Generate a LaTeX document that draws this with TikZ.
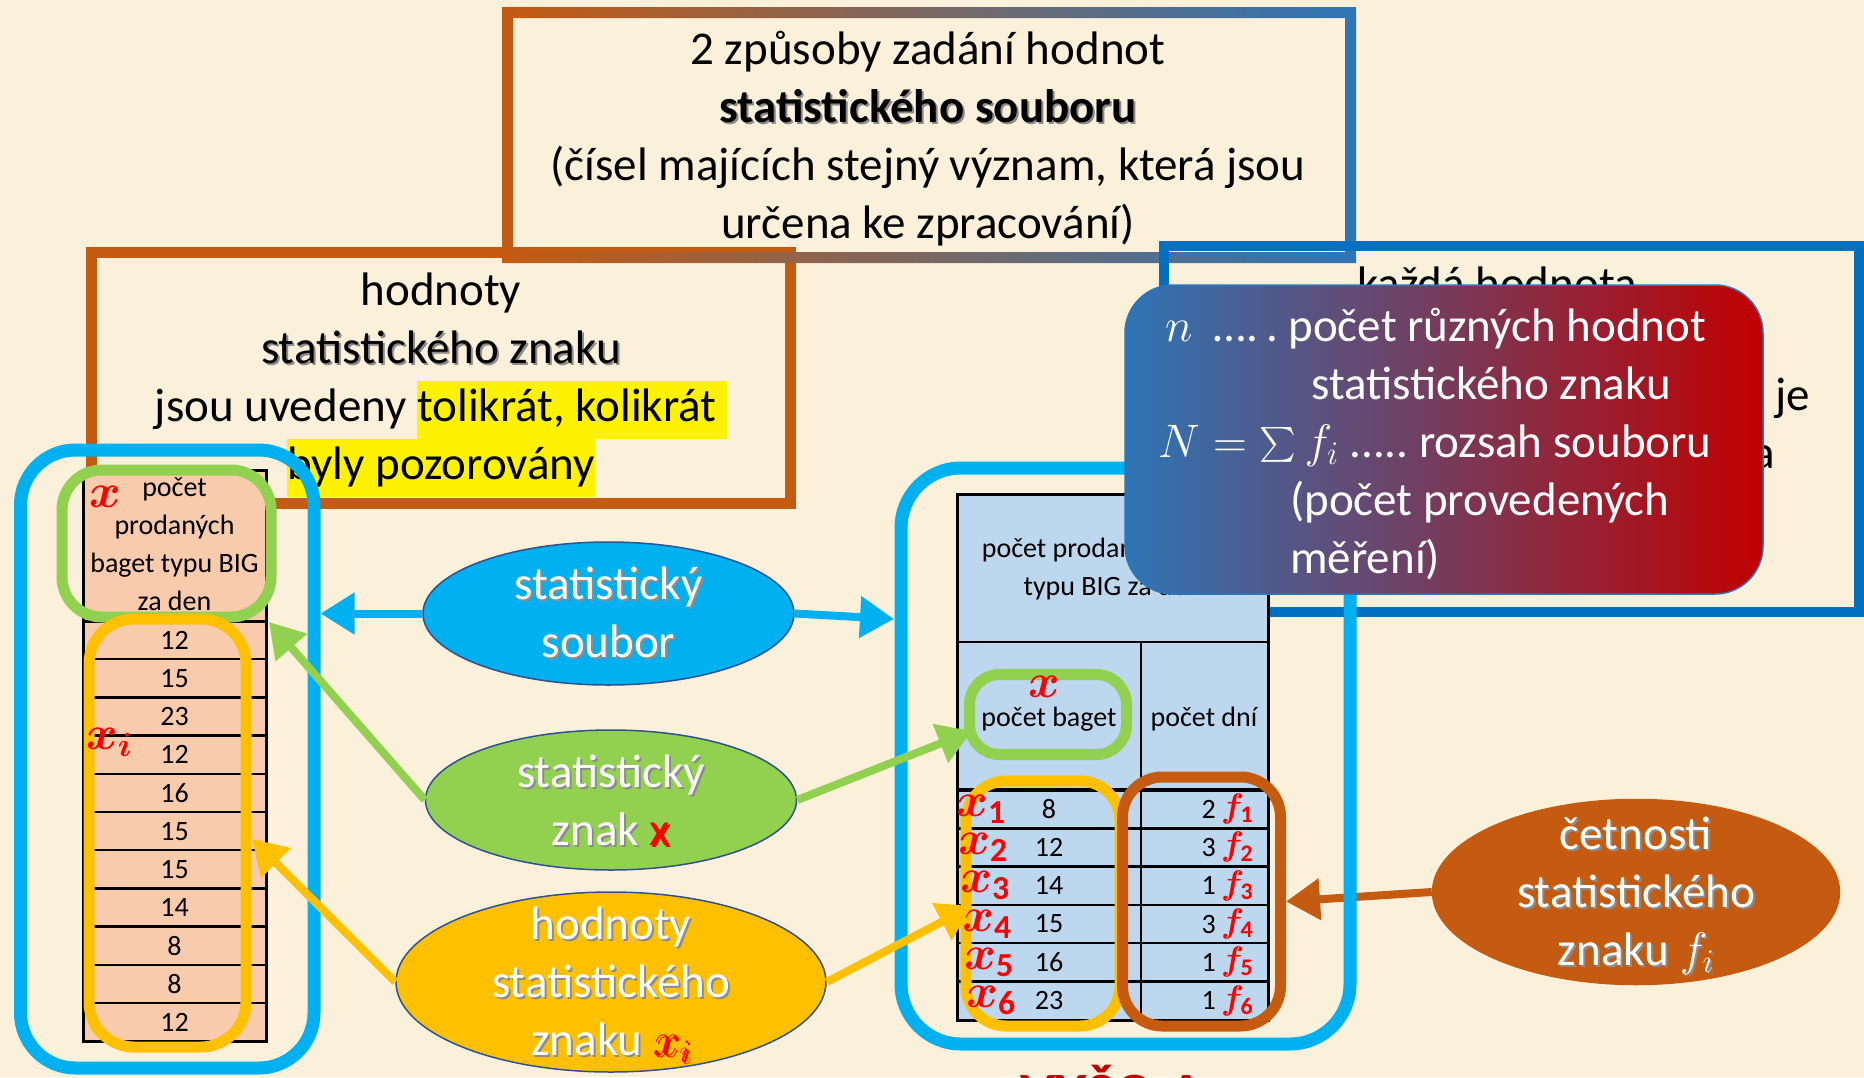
\RequirePackage{fix-cm}
\documentclass[tikz,border=0pt]{standalone}
\usepackage{amsmath,bm}
\usepackage{fontspec}
\setmainfont{Carlito}
\usetikzlibrary{positioning,shapes.geometric,arrows.meta,math}
\definecolor{parch}{HTML}{FBF1DA}
\definecolor{rust}{HTML}{C55A11}
\definecolor{skyb}{HTML}{00B0F0}
\definecolor{leaf}{HTML}{92D050}
\definecolor{amber}{HTML}{FFC000}
\definecolor{navy}{HTML}{0070C0}
\definecolor{steel}{HTML}{2E75B6}
\definecolor{wine}{HTML}{C00000}
\definecolor{mauve}{HTML}{A0667A}
\definecolor{peach}{HTML}{F8CBAD}
\definecolor{pale}{HTML}{BDD7EE}
\definecolor{ovaledge}{HTML}{2F528F}
\newcommand{\slidefont}{\fontsize{47}{58}\selectfont}
\newcommand{\cellfont}{\fontsize{28}{38}\selectfont}
\newcommand{\symfont}{\fontsize{48}{48}\selectfont}
\newcommand{\shad}[1]{\leavevmode\rlap{\kern2pt\raisebox{-2pt}{\textcolor{black!45}{#1}}}#1}
\newcommand{\hilite}[1]{{\setlength{\fboxsep}{0pt}\colorbox{yellow}{\strut #1}}}
\tikzset{
  boxframe/.style={draw=#1, line width=11pt, inner sep=0pt},
  roundframe/.style={draw=#1, line width=11pt, rounded corners=40pt, inner sep=0pt},
  oval/.style={ellipse, fill=#1, draw=ovaledge, line width=1.5pt, inner sep=0pt},
  ovaltext/.style={text=white, align=center, font=\slidefont, inner sep=0pt},
  plain/.style={align=center, font=\slidefont, inner sep=0pt},
  cell/.style={font=\cellfont, inner sep=0pt, align=center},
  redsym/.style={text=red, font=\symfont, inner sep=0pt},
  countbox/.style={rectangle, rounded corners=48pt, left color=steel, right color=wine, draw=steel, line width=1.5pt},
  arr/.style={color=#1, line width=8pt, -{Triangle[length=34pt,width=40pt]}}
}
\begin{document}
\begin{tikzpicture}[x=1pt,y=-1pt]
\fill[parch] (0,0) rectangle (1864,1077);
\useasboundingbox (0,0) rectangle (1864,1077);

\node[boxframe=rust, minimum width=699, minimum height=251] (valsbox) at (441,378) {};
\node[plain] (valstxt) at (441,385) {hodnoty\\\shad{statistického znaku}\\jsou uvedeny \hilite{tolikrát, kolikrát }\\\hilite{byly pozorovány}};

\shade[left color=rust, middle color=mauve, right color=steel, even odd rule]
  (502,7) rectangle (1356,263) (513,18) rectangle (1345,252);
\node[plain] (topnote) at (928,139) {2 způsoby zadání hodnot\\\textbf{\shad{statistického souboru}}\\(čísel majících stejný význam, která jsou\\určena ke zpracování)};

\node[boxframe=navy, line width=10pt, minimum width=695, minimum height=366] (eachbox) at (1511.5,429) {};
\node[plain, anchor=base] (eachtop) at (1497,299) {každá hodnota};
\node[plain, anchor=base east] (eachje) at (1810,410) {ý je};
\node[plain, anchor=base west] (eacha) at (1752,468) {a};

\fill[peach] (83,470) rectangle (266,1041);
\foreach \k in {1,...,10}
  \draw[line width=2.5] (83,{621+38.2*\k}) -- (266,{621+38.2*\k});
\draw[line width=3] (83,621) -- (266,621);
\draw[line width=3] (83,470) rectangle (266,1041);
\node[cell] (headLtxt) at (174.5,544) {počet\\prodaných\\baget typu BIG\\za den};
\foreach \v [count=\k] in {12,15,23,12,16,15,15,14,8,8,12}
  \node[cell] (lv\k) at (174.5,{621+38.2*(\k-0.5)}) {\v};

\fill[pale] (957,494) rectangle (1268,1020);
\draw[line width=2.5] (957,642) -- (1268,642);
\draw[line width=2.5] (1141,642) -- (1141,1020);
\draw[line width=4] (957,790) -- (1268,790);
\foreach \k in {1,...,5}
  \draw[line width=2.5] (957,{790+38.3*\k}) -- (1268,{790+38.3*\k});
\draw[line width=3] (957,494) rectangle (1268,1020);
\node[cell] (headRtxt) at (1112.5,569.5) {počet prodaných baget\\typu BIG za den};
\node[cell] (colx) at (1049,719) {počet baget};
\node[cell] (colf) at (1204,719) {počet dní};

\node[roundframe=leaf, minimum width=209, minimum height=147] (headL) at (166.5,543.5) {};
\node[roundframe=amber, minimum width=157, minimum height=428, rounded corners=45pt] (valsL) at (167.5,833) {};
\node[roundframe=leaf, minimum width=157, minimum height=80, rounded corners=30pt] (headR) at (1048,714.5) {};
\node[roundframe=amber, minimum width=154, minimum height=245] (valsR) at (1043,903.5) {};
\node[roundframe=rust, minimum width=158, minimum height=249] (freqR) at (1201.5,901.5) {};

\foreach \a/\b [count=\k] in {8/2,12/3,14/1,15/3,16/1,23/1} {
  \node[cell] (xv\k) at (1049,{790+38.3*(\k-0.5)}) {\a};
  \node[cell, anchor=east] (fv\k) at (1216,{790+38.3*(\k-0.5)}) {\b};
  \node[redsym, anchor=west, font=\fontsize{34}{34}\selectfont] (fl\k) at (1221,{790+38.3*(\k-0.5)}) {$\bm{f}_{\mathbf{\k}}$};
  \node[redsym] (xl\k) at ({979+2*\k},{790+38.3*(\k-0.5)}) {$\bm{x}_{\mathbf{\k}}$};
}
\node[redsym] (xhL) at (105,497) {$\bm{x}$};
\node[redsym] (xiL) at (109,742) {$\bm{x}_{\bm{i}}$};
\node[redsym] (xhR) at (1044,687) {$\bm{x}$};

\node[oval=rust, draw=rust, minimum width=407, minimum height=185] (cet) at (1636,892) {};
\node[ovaltext] (cettxt) at (1636,897) {\shad{četnosti}\\\shad{statistického}\\\shad{znaku $f_i$}};
\draw[arr=rust] (cet.west) -- (freqR.east);

\node[roundframe=skyb, line width=13pt, rounded corners=55pt, minimum width=293.5, minimum height=618] (setL) at (167.25,759) {};
\node[roundframe=skyb, line width=13pt, rounded corners=60pt, minimum width=449, minimum height=576] (setR) at (1125.5,756) {};

\node[countbox, minimum width=638, minimum height=309] (countbg) at (1444,439.5) {};
\node[ovaltext, anchor=west, align=left] (counttxt) at (1158,444) {\hspace*{7pt}$n$\ \ \textellipsis.\,.\ počet různých hodnot\\
\hspace*{153pt}statistického znaku\\
$N=\raisebox{-4pt}{\scalebox{1.4}{$\sum$}}\,f_i$ .....\ rozsah souboru\\
\hspace*{132pt}(počet provedených\\
\hspace*{132pt}měření)};

\node[oval=skyb, minimum width=371, minimum height=143] (soubor) at (608.5,613.5) {};
\node[ovaltext] (souborTxt) at (608.5,613.5) {\shad{statistický}\\\shad{soubor}};
\node[oval=leaf, minimum width=371, minimum height=140] (znak) at (611,800) {};
\node[ovaltext] (znakTxt) at (611,801) {\shad{statistický}\\\shad{znak \textcolor{red}{x}}};
\node[oval=amber, minimum width=430, minimum height=180] (hodn) at (611,982) {};
\node[ovaltext] (hodnTxt) at (611,986) {\shad{hodnoty}\\\shad{statistického}\\\shad{znaku \textcolor{red}{$x_i$}}};

\coordinate (tipSR) at (894,619);
\coordinate (tipGL) at (269,622);
\coordinate (tipGR) at (972,731);
\coordinate (tipYL) at (252,839);
\coordinate (tipYR) at (972,906);
\draw[arr=skyb] (soubor.west) -- (soubor.west -| setL.east);
\draw[arr=skyb] (soubor.east) -- (tipSR);
\draw[arr=leaf] (znak.west) -- (tipGL);
\draw[arr=leaf] (znak.east) -- (tipGR);
\draw[arr=amber] (hodn.west) -- (tipYL);
\draw[arr=amber] (hodn.east) -- (tipYR);

\node[anchor=base west, text=wine, font=\fontsize{60}{60}\selectfont\bfseries, inner sep=0pt] (lowhint) at (1020,1114) {VYŠO A};
\end{tikzpicture}
\end{document}
